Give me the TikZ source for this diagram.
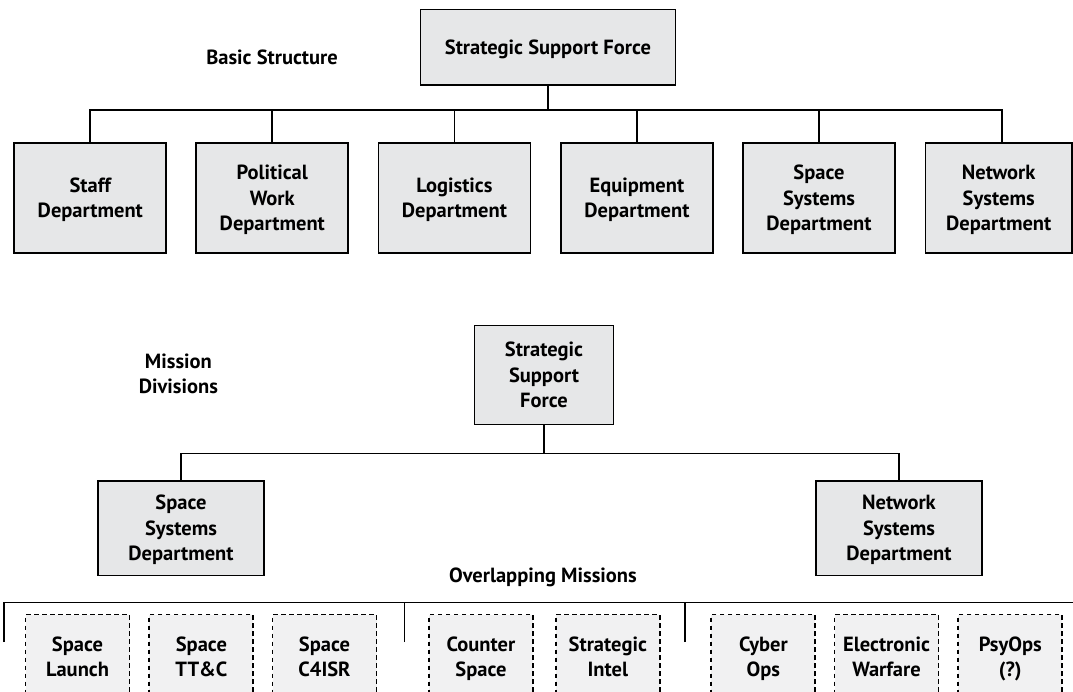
\documentclass[tikz,border=0pt]{standalone}
\usepackage{fontspec}
\setmainfont{PT Sans}
\usetikzlibrary{calc}
\definecolor{boxfill}{RGB}{230,231,232}
\definecolor{dashfill}{RGB}{241,241,242}
\newcommand{\tbl}[1]{\begin{tabular}{@{}c@{}}\rule{0pt}{21.7pt}#1\end{tabular}}
\tikzset{
  lbl/.style={font=\bfseries\fontsize{20.5}{25.5}\selectfont, inner sep=0pt},
  orgbox/.style={lbl, draw=black, fill=boxfill, line width=1.7pt},
  missionbox/.style={lbl, draw=black, fill=dashfill, line width=1.9pt, dash pattern=on 4.5pt off 3.5pt, minimum width=104pt, minimum height=85pt},
  link/.style={draw=black, line width=1.7pt},
}
\begin{document}
\begin{tikzpicture}[x=1pt, y=-1pt]
\useasboundingbox (0,0) rectangle (1073,692);
\fill[white] (0,0) rectangle (1073,692);

% ---------- Basic structure ----------
\node[lbl] (basic) at (272,57) {\tbl{Basic Structure}};
\node[orgbox, minimum width=255pt, minimum height=75.5pt] (ssf1) at (548,47.3) {\tbl{Strategic Support Force}};
\coordinate (b1) at (548,110);
\foreach \n/\x/\t in {staff/90.3/{Staff\\Department},
                       pol/272.3/{Political\\Work\\Department},
                       log/454.4/{Logistics\\Department},
                       equ/636.9/{Equipment\\Department},
                       spa/819/{Space\\Systems\\Department}}{
  \node[orgbox, minimum width=152pt, minimum height=110pt] (\n) at (\x,198) {\tbl{\t}};
}
\node[orgbox, minimum width=146.5pt, minimum height=110pt] (net) at (998.7,198) {\tbl{Network\\Systems\\Department}};
\draw[link] (ssf1.south) -- (b1);
\foreach \n in {staff,pol,log,equ,spa}{\draw[link] (\n.north) |- (b1);}
\draw[link] ($(net.north)+(3,0)$) |- (b1);

% ---------- Mission divisions ----------
\node[lbl] (mission) at (178.4,374) {\tbl{Mission\\Divisions}};
\node[orgbox, minimum width=139pt, minimum height=99pt] (ssf2) at (544,375) {\tbl{Strategic\\Support\\Force}};
\coordinate (b2) at (544,453.4);
\node[orgbox, minimum width=166pt, minimum height=94.6pt] (ssd) at (181,528.3) {\tbl{Space\\Systems\\Department}};
\node[orgbox, minimum width=166pt, minimum height=94.6pt] (nsd) at (899,528.3) {\tbl{Network\\Systems\\Department}};
\draw[link] (ssf2.south) -- (b2);
\draw[link] (ssd.north) |- (b2);
\draw[link] (nsd.north) |- (b2);

% ---------- Overlapping missions ----------
\node[lbl] (overlap) at (543,575) {\tbl{Overlapping Missions}};
\coordinate (g1) at (4,642);
\coordinate (g2) at (404.5,642);
\coordinate (g3) at (684.8,642);
\coordinate (bend) at (1076,602.6);
\draw[link] (g1) |- (bend);
\draw[link] (g2) -- (g2 |- bend);
\draw[link] (g3) -- (g3 |- bend);

\foreach \n/\x/\t in {m1/77.5/{Space\\Launch},
                       m2/201.4/{Space\\TT\&C},
                       m3/324.5/{Space\\C4ISR},
                       m4/481/{Counter\\Space},
                       m5/607.8/{Strategic\\Intel},
                       m6/763.4/{Cyber\\Ops},
                       m7/886.5/{Electronic\\Warfare},
                       m8/1010.3/{PsyOps\\(?)}}{
  \node[missionbox] (\n) at (\x,657) {\tbl{\t}};
}
\end{tikzpicture}
\end{document}
